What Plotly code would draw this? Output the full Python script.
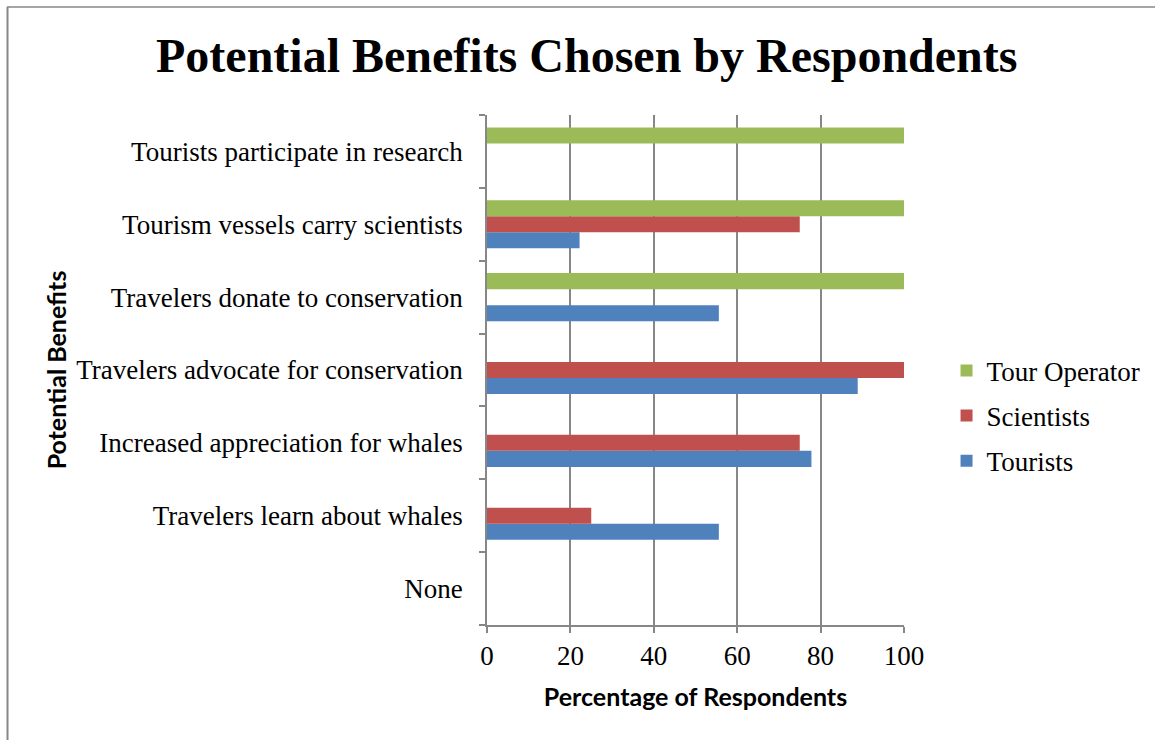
import plotly.graph_objects as go

# Potential benefits, listed bottom to top
categories = [
    "None",
    "Travelers learn about whales",
    "Increased appreciation for whales",
    "Travelers advocate for conservation",
    "Travelers donate to conservation",
    "Tourism vessels carry scientists",
    "Tourists participate in research",
]

tourists = [0, 55.6, 77.8, 88.9, 55.6, 22.2, 0]
scientists = [0, 25, 75, 100, 0, 75, 0]
tour_operator = [0, 0, 0, 0, 100, 100, 100]

x_ticks = [0, 20, 40, 60, 80, 100]

series = [
    ("Tourists", tourists, "#4F81BD", 3),
    ("Scientists", scientists, "#C0504D", 2),
    ("Tour Operator", tour_operator, "#9BBB59", 1),
]

serif = "Liberation Serif"
sans = "Lato"

fig = go.Figure()
for name, vals, color, rank in series:
    fig.add_trace(go.Bar(
        y=categories, x=vals, name=name, orientation="h",
        marker=dict(color=color, line=dict(width=0)),
        legendgroup=name, legendrank=rank,
    ))

fig.update_layout(
    width=1155, height=740,
    barmode="group", bargap=0.34, bargroupgap=0,
    plot_bgcolor="white", paper_bgcolor="white",
    margin=dict(l=487, r=251, t=115, b=115, autoexpand=False),
    title=dict(
        text="<b>Potential Benefits Chosen by Respondents</b>",
        font=dict(family=serif, size=48, color="black"),
        x=0.508, xanchor="center", y=0.925, yanchor="middle", xref="container",
    ),
    legend=dict(
        x=1.102, xanchor="left", y=0.41, yanchor="middle",
        font=dict(family=serif, size=27, color="black"),
        traceorder="grouped", tracegroupgap=7,
        bgcolor="rgba(0,0,0,0)",
    ),
    xaxis=dict(
        range=[0, 100], tickvals=x_ticks, ticktext=[str(v) for v in x_ticks],
        showgrid=True, gridcolor="#878787", gridwidth=1.5,
        showline=True, linecolor="#878787", linewidth=1.5,
        ticks="outside", ticklen=6, tickcolor="#878787", tickwidth=1.5,
        tickfont=dict(family=serif, size=27, color="black"),
        zeroline=False,
        title=dict(text="<b>Percentage of Respondents</b>",
                   font=dict(family=sans, size=25, color="black"), standoff=18),
    ),
    yaxis=dict(
        categoryorder="array", categoryarray=categories,
        showline=True, linecolor="#878787", linewidth=1.5,
        ticks="outside", ticklen=6, tickcolor="#878787", tickwidth=1.5,
        tickson="boundaries", showgrid=False,
        tickfont=dict(family=serif, size=27, color="black"),
        ticklabelstandoff=17,
        title=dict(text="<b>Potential Benefits</b>",
                   font=dict(family=sans, size=25, color="black"), standoff=2),
    ),
)

# Frame lines along the top and left edges of the chart area
fig.add_shape(type="line", xref="paper", yref="paper",
              x0=(7 - 487) / 417, x1=(1160 - 487) / 417,
              y0=(625 - 7) / 510, y1=(625 - 7) / 510,
              line=dict(color="#878787", width=1.5), layer="below")
fig.add_shape(type="line", xref="paper", yref="paper",
              x0=(7.5 - 487) / 417, x1=(7.5 - 487) / 417,
              y0=(625 - 7) / 510, y1=(625 - 745) / 510,
              line=dict(color="#878787", width=2), layer="below")

fig.write_html("out.html")
